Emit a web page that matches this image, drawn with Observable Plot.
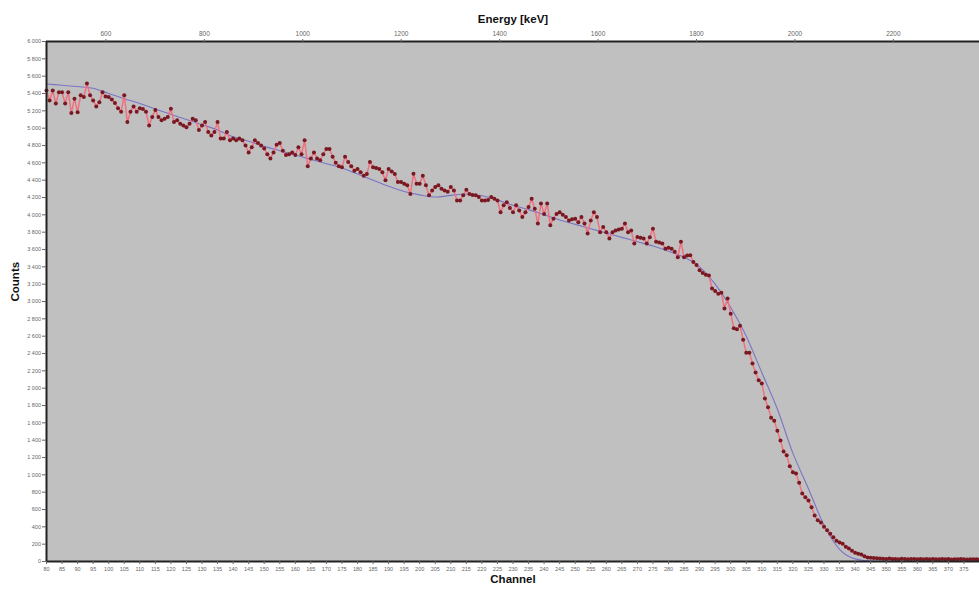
<!DOCTYPE html>
<html><head><meta charset="utf-8">
<script src="https://cdn.jsdelivr.net/npm/d3@7"></script>
<script src="https://cdn.jsdelivr.net/npm/@observablehq/plot@0.6"></script>
<style>html,body{margin:0;padding:0;background:#fff}svg{display:block}</style>
</head><body><div id="chart"></div>
<script>
// Spectrum: one value per channel, starting at channel 80
const firstChannel = 80;
const counts = [
  5435, 5320, 5435, 5285, 5415, 5415, 5285, 5415, 5175, 5340,
  5185, 5380, 5360, 5515, 5380, 5320, 5250, 5300, 5415, 5365,
  5360, 5330, 5290, 5230, 5190, 5380, 5070, 5190, 5250, 5190,
  5230, 5220, 5190, 5030, 5130, 5210, 5130, 5090, 5110, 5130,
  5225, 5070, 5090, 5050, 5030, 5010, 5050, 5110, 5090, 4980,
  5030, 5070, 4955, 4915, 4955, 5070, 4880, 4880, 4955, 4860,
  4880, 4860, 4880, 4860, 4800, 4720, 4780, 4860, 4830, 4800,
  4765, 4700, 4650, 4720, 4810, 4830, 4740, 4690, 4700, 4720,
  4690, 4780, 4700, 4860, 4560, 4650, 4720, 4650, 4630, 4700,
  4760, 4760, 4670, 4600, 4560, 4550, 4670, 4610, 4560, 4510,
  4530, 4490, 4450, 4470, 4610, 4550, 4540, 4530, 4490, 4400,
  4530, 4500, 4470, 4380, 4380, 4360, 4340, 4240, 4475, 4360,
  4360, 4450, 4340, 4225, 4280, 4320, 4340, 4300, 4280, 4265,
  4320, 4280, 4165, 4165, 4225, 4290, 4240, 4230, 4225, 4205,
  4165, 4165, 4170, 4205, 4185, 4165, 4030, 4110, 4145, 4080,
  4030, 4110, 4050, 3975, 4030, 4090, 4185, 4070, 3900, 4130,
  4010, 4130, 3880, 3955, 4010, 4030, 4000, 3975, 3935, 3950,
  3955, 3915, 3975, 3900, 3785, 3935, 4030, 3975, 3800, 3860,
  3800, 3727, 3800, 3820, 3830, 3840, 3900, 3800, 3820, 3670,
  3745, 3735, 3727, 3670, 3740, 3840, 3690, 3680, 3670, 3610,
  3620, 3610, 3575, 3510, 3690, 3510, 3530, 3535, 3455, 3420,
  3360, 3330, 3310, 3300, 3150, 3120, 3090, 3100, 2920, 3035,
  2860, 2690, 2680, 2720, 2560, 2410, 2410, 2285, 2180, 2090,
  2055, 1880, 1780, 1660, 1625, 1510, 1395, 1270, 1225, 1100,
  1030, 1015, 910, 785, 740, 705, 625, 530, 475, 450,
  400, 360, 320, 280, 240, 220, 205, 170, 150, 125,
  100, 90, 80, 60, 45, 42, 40, 38, 35, 32,
  30, 34, 28, 30, 27, 31, 29, 26, 30, 28,
  25, 29, 27, 30, 26, 28, 25, 27, 29, 26,
  28, 24, 27, 25, 28, 26, 24, 27, 25, 26,
  24
];

// Fitted curve
const fitChannels = [80, 85, 90, 95, 100, 105, 110, 115, 120, 125, 130, 135, 140, 145, 150, 155, 160, 165, 170, 175,
  180, 185, 190, 195, 200, 205, 210, 215, 220, 225, 230, 235, 240, 245, 250, 255, 260, 265, 270, 275,
  280, 285, 290, 295, 300, 305, 310, 315, 320, 325, 330, 335, 340, 345, 350, 360, 370, 380];
const fitCounts = [5510, 5495, 5480, 5460, 5400, 5340, 5285, 5220, 5160, 5100, 5040, 4980, 4900, 4850, 4790, 4740, 4690, 4640, 4590, 4540,
  4470, 4400, 4330, 4270, 4230, 4205, 4225, 4240, 4220, 4170, 4110, 4060, 4000, 3940, 3890, 3840, 3790, 3740, 3690, 3640,
  3580, 3510, 3400, 3200, 2930, 2600, 2180, 1760, 1250, 840, 420, 140, 30, 5, 2, 2, 2, 2];

// Axes
const channelTicks = [80,85,90,95,100,105,110,115,120,125,130,135,140,145,150,155,160,165,170,175,180,185,190,195,200,205,210,215,220,225,230,235,240,245,250,255,260,265,270,275,280,285,290,295,300,305,310,315,320,325,330,335,340,345,350,355,360,365,370,375];
const energyTicks = [600, 800, 1000, 1200, 1400, 1600, 1800, 2000, 2200];
const countTicks = [0,200,400,600,800,1000,1200,1400,1600,1800,2000,2200,2400,2600,2800,3000,3200,3400,3600,3800,4000,4200,4400,4600,4800,5000,5200,5400,5600,5800,6000];
// energy calibration: E = gain * channel + offset (keV)
const calGain = 6.319, calOffset = -26.2;
const energyToChannel = e => (e - calOffset) / calGain;

const data = counts.map((c, i) => ({channel: firstChannel + i, counts: c}));
const fit = fitChannels.map((ch, i) => ({channel: ch, counts: fitCounts[i]}));

const fmtCount = d => d3.format(",")(d).replace(/,/g, " ");
const tickColor = "#666";
const titleFont = {fontSize: 11.5, fontWeight: "bold", fill: "#111"};

const chart = Plot.plot({
  width: 979, height: 589,
  marginLeft: 46, marginRight: 0, marginTop: 41, marginBottom: 28,
  x: {domain: [80, 380]},
  y: {domain: [0, 6000]},
  style: {fontFamily: "'Liberation Sans', Arial, sans-serif", background: "#fff"},
  marks: [
    Plot.frame({fill: "#c0c0c0"}),
    Plot.line(fit, {x: "channel", y: "counts", stroke: "#7a74c6", strokeWidth: 1.1, curve: "monotone-x"}),
    Plot.line(data, {x: "channel", y: "counts", stroke: "#f2707e", strokeWidth: 1.5}),
    Plot.dot(data, {x: "channel", y: "counts", r: 2, fill: "#7a1822", stroke: "none"}),
    Plot.ruleX([80], {stroke: "#222", strokeWidth: 2}),
    Plot.ruleY([0], {stroke: "#222", strokeWidth: 2}),
    Plot.ruleY([6000], {stroke: "#222", strokeWidth: 2}),
    Plot.axisY({ticks: countTicks, tickFormat: fmtCount, tickSize: 4, tickPadding: 1.5, fontSize: 5.5, label: null, color: tickColor}),
    Plot.axisX({anchor: "bottom", ticks: channelTicks, tickFormat: d => String(d), tickSize: 3, tickPadding: 2.5, fontSize: 5.5, label: null, color: tickColor}),
    Plot.axisX({anchor: "top", ticks: energyTicks.map(energyToChannel), tickFormat: (d, i) => String(energyTicks[i]), tickSize: 3, tickPadding: 3, fontSize: 6.5, label: null, color: tickColor}),
    Plot.text(["Counts"], {frameAnchor: "left", dx: -31, rotate: -90, ...titleFont}),
    Plot.text(["Channel"], {frameAnchor: "bottom", dy: 21, ...titleFont}),
    Plot.text(["Energy [keV]"], {frameAnchor: "top", dy: -27, ...titleFont})
  ]
});
document.getElementById("chart").appendChild(chart);
</script>
</body></html>
